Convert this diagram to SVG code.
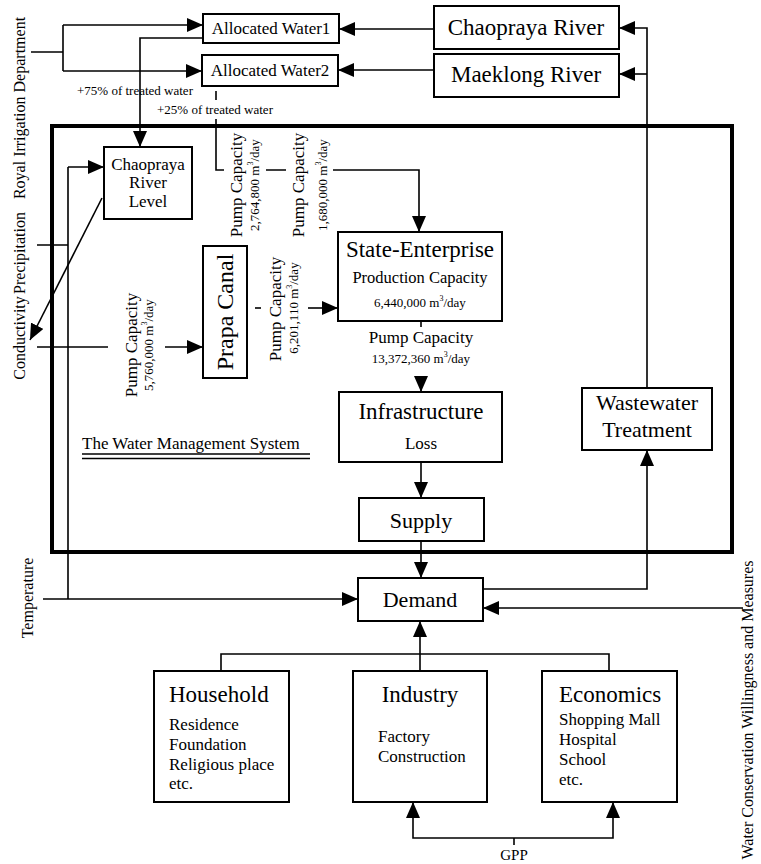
<svg xmlns="http://www.w3.org/2000/svg" width="761" height="864" viewBox="0 0 761 864">
<defs>
<style>
text{font-family:"Liberation Serif","Times New Roman",serif;fill:#000}
.box{fill:#fff;stroke:#000;stroke-width:2}
.ln{fill:none;stroke:#000;stroke-width:1.6}
.arr{fill:none;stroke:#000;stroke-width:1.6;marker-end:url(#ah)}
.c{text-anchor:middle}
</style>
<marker id="ah" viewBox="0 0 16 14" refX="16" refY="7" markerWidth="16" markerHeight="14" orient="auto" markerUnits="userSpaceOnUse"><path d="M0,0 L16,7 L0,14 z" fill="#000"/></marker>
</defs>
<rect width="761" height="864" fill="#fff"/>

<g id="system-boundary">
<rect x="52" y="126" width="680" height="426" fill="none" stroke="#000" stroke-width="4"/>
<text x="82" y="449" font-size="17">The Water Management System</text>
<path d="M82,454 H310 M82,458.5 H310" stroke="#000" stroke-width="1.3" fill="none"/>
</g>

<g id="connectors">
<path class="ln" d="M31,52 H63 M63,25 V71"/>
<path class="arr" d="M63,25 H203"/>
<path class="arr" d="M63,71 H202"/>
<path class="arr" d="M434,29 H339"/>
<path class="arr" d="M434,70 H338"/>
<path class="arr" d="M203,38 H140 V147"/>
<path class="ln" d="M216,91 V100 M216,119 V170 H224 M266,170 H286"/>
<path class="arr" d="M333,170 H419 V232"/>
<path class="arr" d="M647,388 V28 H619"/>
<path class="arr" d="M647,74 H619"/>
<path class="ln" d="M37,245 H68 M68,167 V599 M37,347 H108"/>
<path class="arr" d="M68,167 H104"/>
<path class="arr" d="M165,347 H203"/>
<path class="arr" d="M102,198 L30,340"/>
<path class="ln" d="M255,308 H261"/>
<path class="arr" d="M308,308 H338"/>
<path class="ln" d="M421,321 V327"/>
<path class="arr" d="M421,377 V392"/>
<path class="arr" d="M421,462 V498"/>
<path class="arr" d="M421,541 V578"/>
<path class="arr" d="M43,599 H358"/>
<path class="arr" d="M483,589 H647 V450"/>
<path class="arr" d="M743,608 H483"/>
<path class="ln" d="M221,671 V654 H609 V671"/>
<path class="arr" d="M420,671 V621"/>
<path class="ln" d="M514,845 V838"/>
<path class="arr" d="M514,838 H413 V802"/>
<path class="arr" d="M514,838 H613 V802"/>
</g>

<g id="labels">
<text class="c" font-size="16" transform="translate(25,108) rotate(-90)">Royal Irrigation Department</text>
<text class="c" font-size="16" transform="translate(25,253) rotate(-90)">Precipitation</text>
<text class="c" font-size="16" transform="translate(25,338) rotate(-90)">Conductivity</text>
<text class="c" font-size="16" transform="translate(33,598) rotate(-90)">Temperature</text>
<text class="c" font-size="16" transform="translate(753,710) rotate(-90)">Water Conservation Willingness and Measures</text>
<text x="77" y="95" font-size="13">+75% of treated water</text>
<text x="157" y="114" font-size="13">+25% of treated water</text>
<text class="c" font-size="17" transform="translate(137,345) rotate(-90)">Pump Capacity</text>
<text class="c" font-size="13" transform="translate(153,345) rotate(-90)">5,760,000 m<tspan font-size="8" dy="-6">3</tspan><tspan dy="6">/day</tspan></text>
<text class="c" font-size="17" transform="translate(242,185) rotate(-90)">Pump Capacity</text>
<text class="c" font-size="13" transform="translate(259,185) rotate(-90)">2,764,800 m<tspan font-size="8" dy="-6">3</tspan><tspan dy="6">/day</tspan></text>
<text class="c" font-size="17" transform="translate(304,185) rotate(-90)">Pump Capacity</text>
<text class="c" font-size="13" transform="translate(327,185) rotate(-90)">1,680,000 m<tspan font-size="8" dy="-6">3</tspan><tspan dy="6">/day</tspan></text>
<text class="c" font-size="17" transform="translate(281,309) rotate(-90)">Pump Capacity</text>
<text class="c" font-size="13" transform="translate(298,308) rotate(-90)">6,201,110 m<tspan font-size="8" dy="-6">3</tspan><tspan dy="6">/day</tspan></text>
<text class="c" x="421" y="343" font-size="17">Pump Capacity</text>
<text class="c" x="421" y="363" font-size="13">13,372,360 m<tspan font-size="8" dy="-6">3</tspan><tspan dy="6">/day</tspan></text>
<text class="c" x="514" y="860" font-size="15">GPP</text>
</g>

<g id="allocated-water1">
<rect class="box" x="203" y="14" width="136" height="29"/>
<text class="c" x="271" y="34" font-size="17">Allocated Water1</text>
</g>
<g id="allocated-water2">
<rect class="box" x="202" y="55" width="136" height="31"/>
<text class="c" x="270" y="76" font-size="17">Allocated Water2</text>
</g>
<g id="chaopraya-river">
<rect class="box" x="434" y="6" width="185" height="43"/>
<text class="c" x="526" y="35" font-size="23">Chaopraya River</text>
</g>
<g id="maeklong-river">
<rect class="box" x="434" y="54" width="185" height="43"/>
<text class="c" x="526" y="82" font-size="23">Maeklong River</text>
</g>
<g id="chaopraya-river-level">
<rect class="box" x="104" y="147" width="88" height="72"/>
<text class="c" x="148" y="170" font-size="17">Chaopraya</text>
<text class="c" x="148" y="188" font-size="17">River</text>
<text class="c" x="148" y="207" font-size="17">Level</text>
</g>
<g id="prapa-canal">
<rect class="box" x="203" y="246" width="44" height="132"/>
<text class="c" font-size="24" transform="translate(233,312) rotate(-90)">Prapa Canal</text>
</g>
<g id="state-enterprise">
<rect class="box" x="338" y="232" width="164" height="89"/>
<text class="c" x="420" y="257" font-size="23">State-Enterprise</text>
<text class="c" x="420" y="283" font-size="16.5">Production Capacity</text>
<text class="c" x="420" y="307" font-size="13">6,440,000 m<tspan font-size="8" dy="-6">3</tspan><tspan dy="6">/day</tspan></text>
</g>
<g id="infrastructure">
<rect class="box" x="339" y="392" width="163" height="70"/>
<text class="c" x="421" y="419" font-size="23">Infrastructure</text>
<text class="c" x="421" y="449" font-size="17">Loss</text>
</g>
<g id="supply">
<rect class="box" x="359" y="498" width="125" height="43"/>
<text class="c" x="421" y="528" font-size="22">Supply</text>
</g>
<g id="demand">
<rect class="box" x="358" y="578" width="125" height="43"/>
<text class="c" x="420" y="607" font-size="22">Demand</text>
</g>
<g id="wastewater-treatment">
<rect class="box" x="582" y="388" width="130" height="62"/>
<text class="c" x="647" y="410" font-size="22">Wastewater</text>
<text class="c" x="647" y="437" font-size="22">Treatment</text>
</g>
<g id="household">
<rect class="box" x="154" y="671" width="135" height="131"/>
<text x="169" y="702" font-size="23">Household</text>
<text x="169" y="730" font-size="17">Residence</text>
<text x="169" y="750" font-size="17">Foundation</text>
<text x="169" y="770" font-size="17">Religious place</text>
<text x="169" y="789" font-size="17">etc.</text>
</g>
<g id="industry">
<rect class="box" x="353" y="671" width="134" height="131"/>
<text class="c" x="420" y="702" font-size="23">Industry</text>
<text x="378" y="742" font-size="17">Factory</text>
<text x="378" y="762" font-size="17">Construction</text>
</g>
<g id="economics">
<rect class="box" x="542" y="671" width="135" height="131"/>
<text x="559" y="702" font-size="23">Economics</text>
<text x="559" y="725" font-size="17">Shopping Mall</text>
<text x="559" y="745" font-size="17">Hospital</text>
<text x="559" y="765" font-size="17">School</text>
<text x="559" y="785" font-size="17">etc.</text>
</g>
</svg>
